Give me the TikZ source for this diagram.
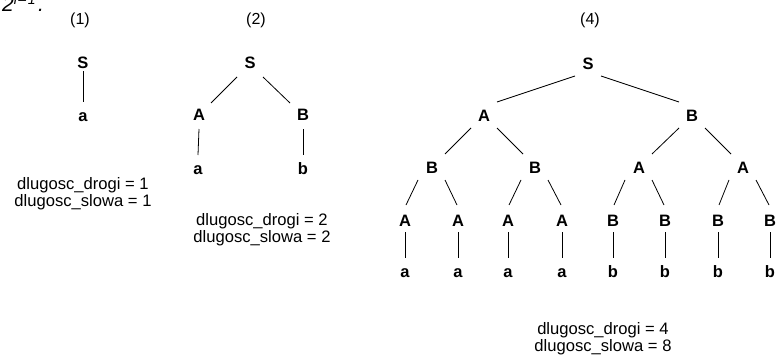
\documentclass[tikz,border=0pt]{standalone}
\usepackage{fontspec}
\setmainfont{Liberation Sans}
\begin{document}
\begin{tikzpicture}[x=1pt,y=-1pt,
  lab/.style={font=\fontsize{16.5}{17}\selectfont\bfseries, inner sep=0pt, anchor=base},
  ttl/.style={font=\fontsize{16}{17}\selectfont, inner sep=0pt, anchor=base},
  info/.style={font=\fontsize{16.6}{17.2}\selectfont, inner sep=0pt, align=center},
  conn/.style={draw=black, line width=0.8pt}]
\useasboundingbox (0,0) rectangle (776,356);
% header fragment
\node[font=\fontsize{21}{21}\selectfont\itshape, inner sep=0pt, anchor=base west] (hdr) at (2,12) {2\textsuperscript{\fontsize{14}{14}\selectfont i\kern1.5pt–\kern1.5pt1}\kern2pt.};
% titles
\node[ttl] (t1) at (80,24) {(1)};
\node[ttl] (t2) at (256,24) {(2)};
\node[ttl] (t4) at (590,24) {(4)};
% tree 1
\node[lab] (S1) at (83,68) {S};
\node[lab] (a1) at (83,121) {a};
\draw[conn] ([shift={(0,3)}]S1.base) -- ([shift={(0,-19)}]a1.base);
\node[info] (i1) at (83,194) {dlugosc\_drogi = 1\\dlugosc\_slowa = 1};
% tree 2
\node[lab] (S2) at (250,68) {S};
\node[lab] (A2) at (199,120) {A};
\node[lab] (B2) at (303,120) {B};
\node[lab] (a2) at (198,174) {a};
\node[lab] (b2) at (303,174) {b};
\draw[conn] ([shift={(-13,9)}]S2.base) -- ([shift={(12,-17)}]A2.base);
\draw[conn] ([shift={(13,9)}]S2.base) -- ([shift={(-13,-17)}]B2.base);
\draw[conn] ([shift={(0,9)}]A2.base) -- ([shift={(0,-19)}]a2.base);
\draw[conn] ([shift={(0,9)}]B2.base) -- ([shift={(0,-19)}]b2.base);
\node[info] (i2) at (262,230) {dlugosc\_drogi = 2\\dlugosc\_slowa = 2};
% tree 4
\node[lab] (S4) at (588,69) {S};
\node[lab] (A4) at (484,121) {A};
\node[lab] (B4) at (692,121) {B};
\node[lab] (BA) at (432,173) {B};
\node[lab] (BB) at (535,173) {B};
\node[lab] (AA) at (639,173) {A};
\node[lab] (AB) at (743,173) {A};
\foreach \x/\n/\t in {405/1/A,458/2/A,508/3/A,562/4/A,613/5/B,665/6/B,718/7/B,770/8/B}
  \node[lab] (L\n) at (\x,226) {\t};
\foreach \x/\n/\t in {405/1/a,458/2/a,508/3/a,562/4/a,613/5/b,665/6/b,718/7/b,770/8/b}
  \node[lab] (F\n) at (\x,277) {\t};
\draw[conn] ([shift={(-13,7)}]S4.base) -- ([shift={(13,-19)}]A4.base);
\draw[conn] ([shift={(13,7)}]S4.base) -- ([shift={(-13,-19)}]B4.base);
\draw[conn] ([shift={(-13,7)}]A4.base) -- ([shift={(13,-19)}]BA.base);
\draw[conn] ([shift={(13,7)}]A4.base) -- ([shift={(-12,-19)}]BB.base);
\draw[conn] ([shift={(-13,7)}]B4.base) -- ([shift={(13,-19)}]AA.base);
\draw[conn] ([shift={(13,7)}]B4.base) -- ([shift={(-12,-19)}]AB.base);
\foreach \p/\l/\r in {BA/1/2,BB/3/4,AA/5/6,AB/7/8}{
  \draw[conn] ([shift={(-14,7)}]\p.base) -- ([shift={(1,-21)}]L\l.base);
  \draw[conn] ([shift={(13,7)}]\p.base) -- ([shift={(-1,-21)}]L\r.base);
}
\foreach \n in {1,...,8}
  \draw[conn] ([shift={(0,6)}]L\n.base) -- ([shift={(0,-19)}]F\n.base);
\node[info] (i4) at (603,339) {dlugosc\_drogi = 4\\dlugosc\_slowa = 8};
\end{tikzpicture}
\end{document}
